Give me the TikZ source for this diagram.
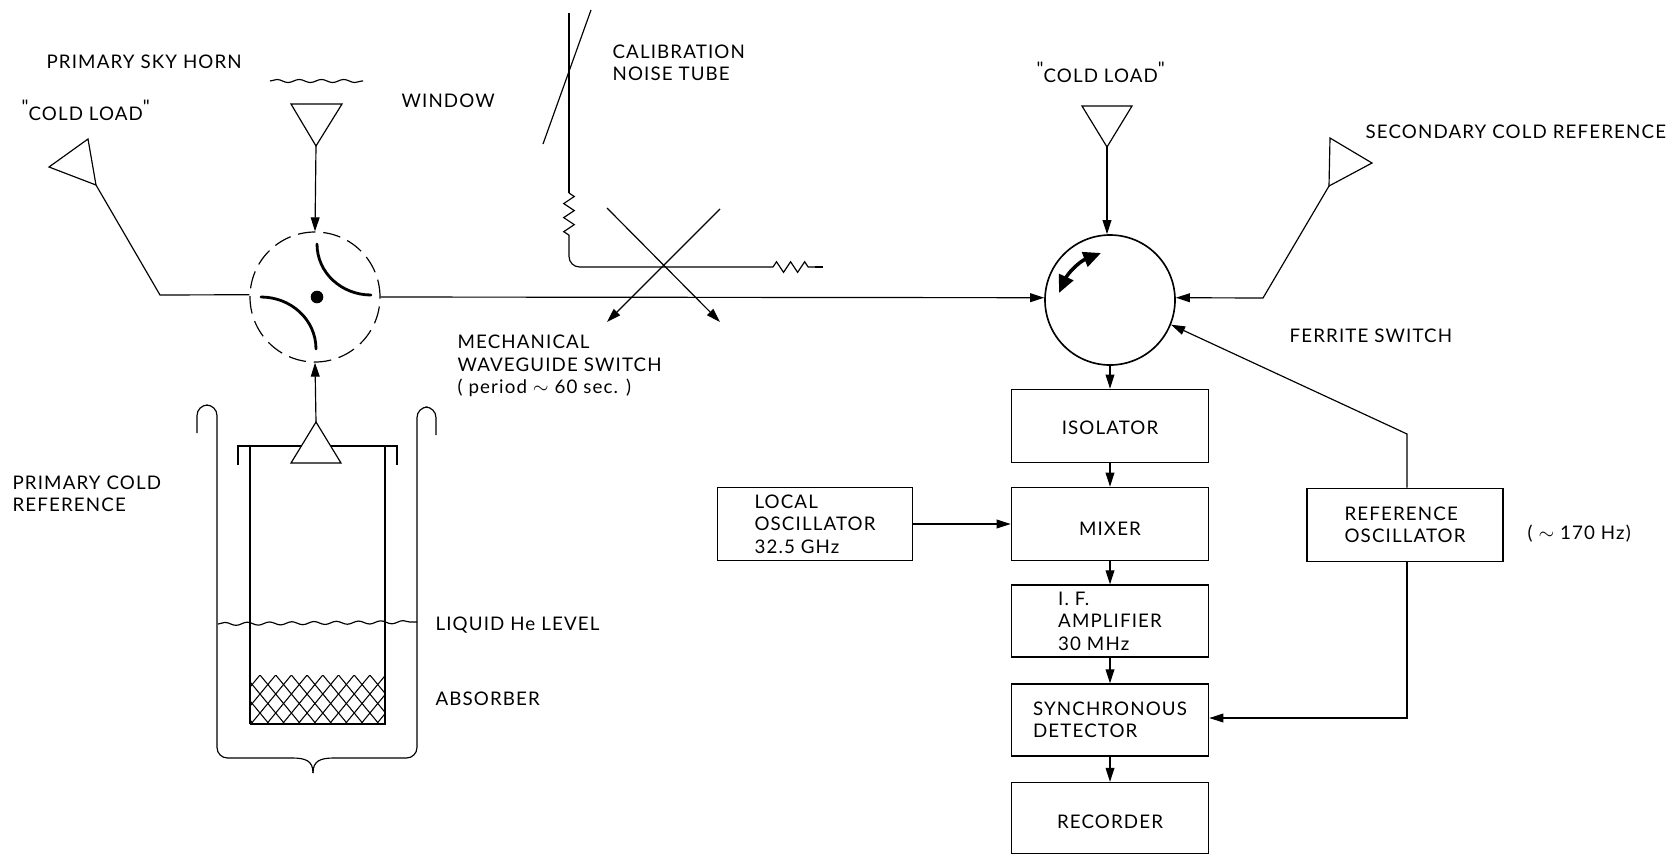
\documentclass[tikz,border=0pt]{standalone}
\usepackage{fontspec}
\setmainfont[LetterSpace=6]{Lato}
\newfontfamily\plainfont{Lato}
\usepackage{tikz}
\usetikzlibrary{arrows.meta,positioning,calc,decorations.pathmorphing}

\begin{document}
\begin{tikzpicture}[
  x=0.03cm, y=-0.03cm,
  line width=1pt,
  block/.style={draw, line width=1.1pt, minimum width=5.92cm, minimum height=2.2cm, align=left, font=\lbl},
  lbl/.style={font=\lbl, align=left, anchor=west, inner sep=0pt},
  arrow/.style={-{Triangle[length=12pt,width=7.5pt]}},
  horn/.style={draw, line join=miter, fill=white},
  wave/.style={decorate, decoration={snake, amplitude=1.3pt, segment length=19pt}},
  coil/.style={decorate, decoration={zigzag, amplitude=4.5pt, segment length=12pt}},
  mirror/.style={line width=2.4pt, line cap=round}
]
  \newcommand{\lbl}{\fontsize{16}{19.2}\selectfont}
  \newcommand{\qmark}{\raisebox{6pt}[0pt][0pt]{\plainfont"}}
  \newcommand{\dropped}[2]{\raisebox{-#1pt}[0pt][0pt]{#2}}
  \useasboundingbox (0,0) rectangle (1677,855);

  % Signal chain
  \node[block] (isolator) at (1110,426) {\dropped{7.4}{ISOLATOR}};
  \node[block] (mixer) at (1110,524) {\dropped{10}{MIXER}};
  \node[block, minimum height=2.16cm] (amplifier) at (1110,621) {I. F.\\AMPLIFIER\\30 MHz};
  \node[block, minimum height=2.16cm] (detector) at (1110,720) {SYNCHRONOUS\\DETECTOR};
  \node[block, minimum height=2.13cm] (recorder) at (1110,818) {\dropped{9.1}{RECORDER}};
  \node[block, minimum width=5.85cm] (local) at (815,524) {LOCAL\\OSCILLATOR\\32.5 GHz};
  \node[block, minimum width=5.88cm] (reference) at (1405,525) {REFERENCE\\OSCILLATOR};

  % Switches
  \node[draw, circle, line width=1.4pt, minimum size=3.9cm] (ferrite) at (1110,300) {};
  \node[draw, circle, dash pattern=on 15pt off 6.7pt, minimum size=3.9cm] (mech) at (315,297) {};
  \fill (317,297) circle (6.3);
  \draw[mirror] (317,244) to[out=-90, in=180] (371,295);
  \draw[mirror] (261,297) to[out=0, in=90] (316,349);
  \draw[line width=3pt, {Triangle[length=15pt,width=13pt]}-{Triangle[length=15pt,width=13pt]}] (1101,253) to[bend right=22] (1059,293);

  % Horns
  \coordinate (skyapex) at (316,146);
  \coordinate (leftfoot) at (96,185);
  \coordinate (loadapex) at (1107,147);
  \coordinate (secfoot) at (1329,186);
  \coordinate (primapex) at (316,422);
  \coordinate (leftbend) at (160,295);
  \coordinate (secbend) at (1263,298);
  \draw[horn] (291,104) -- (342,104) -- (skyapex) -- cycle;
  \draw[horn] (88,139) -- (49,167) -- (leftfoot) -- cycle;
  \draw[horn] (1082,106) -- (1132,106) -- (loadapex) -- cycle;
  \draw[horn] (1330,138) -- (1372,163) -- (secfoot) -- cycle;
  \draw[wave] (270,81) -- (363,81);

  % Connections
  \draw[arrow] (skyapex) -- (mech.north);
  \draw (leftfoot) -- (leftbend) -- (mech.178);
  \draw[arrow] (mech.east) -- (ferrite.178);
  \draw[arrow] (loadapex) -- (ferrite.north -| loadapex);
  \draw[arrow] (secfoot) -- (secbend) -- (ferrite.2);
  \draw[arrow] (ferrite.south) -- (isolator.north);
  \draw[arrow] (isolator) -- (mixer);
  \draw[arrow] (mixer) -- (amplifier);
  \draw[arrow] (amplifier) -- (detector);
  \draw[arrow] (detector) -- (recorder);
  \draw[arrow] (local) -- (mixer);
  \coordinate (refup) at (1407,434);
  \coordinate (refdown) at (1407,718);
  \draw[arrow] (reference.north -| refup) -- (refup) -- (ferrite.-22);
  \draw[arrow] (reference.south -| refdown) -- (refdown) -- (detector.east |- refdown);

  % Calibration arm
  \coordinate (tubetop) at (569,13);
  \coordinate (coiltop) at (569,193);
  \coordinate (coilend) at (569,236);
  \coordinate (termin) at (773,267);
  \coordinate (termout) at (823,267);
  \draw (tubetop) -- (coiltop);
  \draw[coil] (coiltop) -- (coilend);
  \draw[rounded corners=9pt] (coilend) -- (569,267) -- (termin);
  \draw[coil] (termin) -- (815,267);
  \draw (815,267) -- (termout);
  \draw (591,10) -- (543,144);
  \draw[arrow] (607,208) -- (720,322);
  \draw[arrow] (720,209) -- (607,322);

  % Dewar
  \draw (250,724) -- (250,446) (385,446) -- (385,724) -- (250,724);
  \begin{scope}
    \clip (250,675) rectangle (385,724);
    \foreach \x in {-4,...,11} {
      \draw[line width=0.9pt] ({260+\x*15.7},675) -- ({300.5+\x*15.7},724);
      \draw[line width=0.9pt] ({260+\x*15.7},675) -- ({219.5+\x*15.7},724);
    }
  \end{scope}
  \draw (238,465) -- (238,446) -- (397,446) -- (397,465);
  \draw[horn] (primapex) -- (291,463) -- (341,463) -- cycle;
  \draw[arrow] (primapex) -- (mech.south);
  \draw[rounded corners=9pt] (197,433) -- (197,405) -- (217,405) -- (217,758) -- (292,758);
  \draw (292,758) .. controls (306,758) and (313,761) .. (313,773);
  \draw[rounded corners=9pt] (436,435) -- (436,407) -- (417,407) -- (417,758) -- (334,758);
  \draw (334,758) .. controls (320,758) and (313,761) .. (313,773);
  \draw[wave] (218,624) -- (417,622);

  % Labels
  \node[lbl] (skylabel) at (46,62) {PRIMARY SKY HORN};
  \node[lbl] (leftload) at (21,114) {\qmark COLD LOAD\qmark};
  \node[lbl] (window) at (401,101) {WINDOW};
  \node[lbl] (noise) at (612,63) {CALIBRATION\\NOISE TUBE};
  \node[lbl] (rightload) at (1036,76) {\qmark COLD LOAD\qmark};
  \node[lbl] (secondary) at (1365,132) {SECONDARY COLD REFERENCE};
  \node[lbl] (switchlabel) at (1289,336) {FERRITE SWITCH};
  \node[lbl] (mechlabel) at (457,366) {MECHANICAL\\WAVEGUIDE SWITCH\\( period $\sim$ 60 sec. )};
  \node[lbl] (coldref) at (12,494) {PRIMARY COLD\\REFERENCE};
  \node[lbl] (helium) at (435,625) {LIQUID He LEVEL};
  \node[lbl] (absorber) at (435,699) {ABSORBER};
  \node[lbl] (hertz) at (1527,534) {( $\sim$ 170 Hz)};
\end{tikzpicture}
\end{document}
